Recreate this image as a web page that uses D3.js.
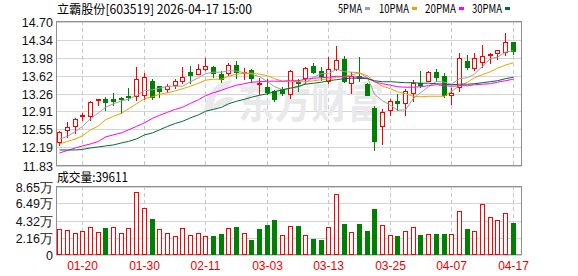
<!DOCTYPE html>
<html><head><meta charset="utf-8">
<script src="https://cdn.jsdelivr.net/npm/d3@7/dist/d3.min.js"></script>
<style>body{margin:0;background:#fff}svg{display:block}</style>
</head><body><svg id="c" width="578" height="276"></svg>
<script>
const dates=["01-15","01-16","01-19","01-20","01-21","01-22","01-23","01-26","01-27","01-28","01-29","01-30",
"02-02","02-03","02-04","02-05","02-06","02-09","02-10","02-11","02-12","02-13","02-24","02-25","02-26","02-27",
"03-02","03-03","03-04","03-05","03-06","03-09","03-10","03-11","03-12","03-13","03-16","03-17","03-18","03-19","03-20",
"03-23","03-24","03-25","03-26","03-27","03-30","03-31","04-01","04-02","04-03","04-07","04-08","04-09","04-10",
"04-13","04-14","04-15","04-16","04-17"];
const open =[12.30,12.53,12.61,12.81,12.82,13.13,13.15,13.16,13.18,13.22,13.22,13.23,13.52,13.41,13.36,13.44,13.52,13.70,13.65,13.75,
13.80,13.65,13.67,13.84,13.68,13.74,13.45,13.40,13.32,13.35,13.26,13.50,13.57,13.82,13.72,13.52,13.75,13.95,13.47,13.62,
13.46,12.97,12.61,12.93,13.12,13.07,13.27,13.48,13.52,13.70,13.62,13.23,13.40,13.91,13.77,13.89,14.03,14.07,14.10,14.29];
const high =[12.52,12.70,12.77,12.88,13.12,13.16,13.20,13.27,13.19,13.37,13.80,13.68,13.56,13.42,13.45,13.56,13.80,13.81,13.85,13.97,
13.82,13.71,13.87,13.92,13.77,13.76,13.58,13.55,13.34,13.40,13.73,13.56,13.80,13.88,13.80,13.99,14.21,14.01,13.70,14.00,
13.48,13.02,12.95,13.15,13.26,13.35,13.54,13.72,13.72,13.76,13.67,13.37,14.07,14.03,14.07,14.23,14.08,14.13,14.47,14.30];
const low  =[12.24,12.40,12.48,12.73,12.74,13.03,12.93,13.04,12.87,13.14,13.14,13.15,13.16,13.19,13.30,13.37,13.47,13.48,13.65,13.74,
13.60,13.49,13.63,13.57,13.55,13.50,13.25,13.26,13.12,13.23,13.17,13.31,13.47,13.67,13.54,13.47,13.74,13.50,13.27,13.52,
13.24,12.14,12.26,12.83,12.94,12.83,13.11,13.40,13.52,13.52,13.19,13.05,13.32,13.75,13.74,13.80,13.87,13.95,14.03,14.05];
const close=[12.50,12.60,12.76,12.83,13.10,13.15,13.10,13.12,13.16,13.19,13.55,13.59,13.19,13.32,13.42,13.52,13.59,13.64,13.75,13.82,
13.67,13.55,13.84,13.69,13.70,13.57,13.47,13.30,13.15,13.27,13.72,13.48,13.77,13.70,13.62,13.75,13.93,13.52,13.62,13.57,
13.24,12.31,12.89,13.12,13.07,13.32,13.47,13.43,13.70,13.60,13.24,13.28,13.97,13.79,13.97,14.01,14.05,14.13,14.29,14.12];
const volume=[3.25,3.12,2.75,3.00,3.50,2.87,3.37,3.50,2.75,3.37,7.95,5.87,4.50,3.25,2.75,2.37,3.37,2.50,2.75,2.37,
2.37,2.62,3.37,3.50,2.75,1.87,3.25,3.75,4.37,2.50,3.62,3.62,2.50,2.00,1.87,3.50,7.70,3.87,2.87,3.87,
3.00,5.74,3.75,2.50,2.37,3.00,3.50,2.50,2.62,2.62,2.62,2.62,5.49,3.25,3.00,6.37,4.74,4.37,5.24,3.96];
const volUp=[1,1,1,1,1,1,0,1,1,1,1,1,0,1,1,1,1,1,1,1,0,0,1,0,1,0,0,0,0,1,
1,0,1,0,0,1,1,0,1,0,0,0,1,1,0,1,1,0,1,0,0,1,1,0,1,1,1,1,1,0];
const ma5=[12.36,12.41,12.51,12.61,12.76,12.88,12.99,13.06,13.12,13.15,13.23,13.32,13.34,13.37,13.41,13.41,13.41,13.50,13.58,13.66,
13.69,13.69,13.72,13.71,13.68,13.65,13.60,13.50,13.40,13.34,13.38,13.38,13.48,13.59,13.66,13.66,13.75,13.70,13.69,13.68,
13.58,13.25,13.12,13.03,12.93,12.94,13.17,13.28,13.40,13.51,13.49,13.45,13.56,13.58,13.65,13.81,13.96,13.99,14.09,14.12];
const ma10=[12.26,12.31,12.36,12.42,12.54,12.62,12.74,12.81,12.87,12.96,13.06,13.16,13.20,13.25,13.28,13.32,13.36,13.41,13.47,13.53,
13.55,13.55,13.61,13.65,13.67,13.67,13.65,13.62,13.56,13.51,13.51,13.50,13.50,13.52,13.54,13.56,13.59,13.60,13.64,13.67,
13.62,13.50,13.41,13.36,13.30,13.26,13.21,13.20,13.21,13.21,13.21,13.31,13.42,13.49,13.58,13.64,13.70,13.77,13.83,13.88];
const ma20=[12.08,12.13,12.18,12.22,12.26,12.31,12.40,12.44,12.48,12.54,12.61,12.68,12.77,12.83,12.89,12.95,12.99,13.07,13.14,13.22,
13.28,13.33,13.38,13.43,13.46,13.49,13.50,13.51,13.51,13.51,13.52,13.52,13.55,13.57,13.58,13.59,13.61,13.60,13.60,13.59,
13.57,13.50,13.46,13.43,13.40,13.39,13.39,13.40,13.42,13.44,13.42,13.41,13.42,13.42,13.44,13.45,13.46,13.49,13.52,13.55];
const ma30=[12.14,12.14,12.14,12.15,12.18,12.20,12.22,12.24,12.28,12.31,12.36,12.44,12.48,12.54,12.61,12.67,12.71,12.78,12.84,12.91,
12.95,12.99,13.06,13.11,13.15,13.19,13.23,13.26,13.30,13.34,13.37,13.41,13.45,13.47,13.49,13.52,13.54,13.56,13.57,13.57,
13.56,13.52,13.50,13.50,13.49,13.48,13.48,13.47,13.47,13.46,13.45,13.44,13.45,13.45,13.46,13.48,13.50,13.52,13.56,13.59];
const priceTicks=[11.83,12.19,12.55,12.91,13.26,13.62,13.98,14.34,14.70];
const priceTickLabels=["11.83","12.19","12.55","12.91","13.26","13.62","13.98","14.34","14.70"];
const volTicks=[0,2.16,4.32,6.49,8.65];
const volTickLabels=["0","2.16万","4.32万","6.49万","8.65万"];
const dateTicks=["01-20","01-30","02-11","03-03","03-13","03-25","04-07","04-17"];
const maNames=["5PMA","10PMA","20PMA","30PMA"];
const maColors=["#a0a0a0","#f0a000","#ff00ff","#006f2f"];
const title="立霸股份[603519] 2026-04-17 15:00";
const volTitle="成交量:39611";
const watermark="东方财富";

const RED="#ff0000", GREEN="#008000";
const svg=d3.select("#c");
const P={l:56,r:522,t1:21,b1:166,t2:186,b2:255};
const x=d3.scaleBand().domain(dates).range([P.l,P.r-5]);
const y=d3.scaleLinear().domain([priceTicks[0],priceTicks[priceTicks.length-1]]).range([P.b1-0.5,P.t1+0.5]);
const yv=d3.scaleLinear().domain([0,volTicks[volTicks.length-1]]).range([P.b2-0.5,P.t2+0.5]);
const cx=d=>Math.floor(x(d)+x.bandwidth()/2);
const yy=v=>Math.round(y(v));
const FONT="'Liberation Sans', Arial, sans-serif";
const CJK="'Noto Sans CJK SC', sans-serif";

// panel grids
function panel(top,bottom,ticks,scale){
  const g=svg.append("g");
  g.selectAll("line.h").data(ticks).join("line")
   .attr("x1",P.l).attr("x2",P.r).attr("y1",d=>Math.round(scale(d))+0.5).attr("y2",d=>Math.round(scale(d))+0.5)
   .attr("stroke","#d4d4d4").attr("stroke-width",1);
  g.selectAll("line.v").data(dateTicks).join("line")
   .attr("x1",d=>cx(d)+0.5).attr("x2",d=>cx(d)+0.5).attr("y1",top).attr("y2",bottom)
   .attr("stroke","#c8c8c8").attr("stroke-dasharray","4,3");
  g.append("rect").attr("x",P.l+0.5).attr("y",top+0.5).attr("width",P.r-P.l-1).attr("height",bottom-top-1)
   .attr("fill","none").attr("stroke","#909090");
}
panel(P.t1,P.b1,priceTicks,y);
panel(P.t2,P.b2,volTicks,yv);

// watermark
svg.append("text").attr("x",238).attr("y",118).text(watermark)
  .attr("font-family",CJK).attr("font-weight","bold").attr("font-size",42)
  .attr("textLength",146).attr("lengthAdjust","spacingAndGlyphs").attr("fill","#e9e9ec");
svg.append("path").attr("d","M204,112 C206,92 216,82 232,80 L228,88 C218,90 212,98 214,112 Z M214,104 C222,96 228,96 234,98 L228,106 C222,104 218,106 214,110 Z")
  .attr("fill","#e9e9ec");

// y labels
svg.append("g").selectAll("text").data(priceTicks).join("text")
  .attr("x",53).attr("y",d=>yy(d)).attr("dy","0.36em").attr("text-anchor","end")
  .attr("font-family",FONT).attr("font-size",12.5).attr("fill","#111").text((d,i)=>priceTickLabels[i]);
svg.append("g").selectAll("text").data(volTicks).join("text")
  .attr("x",53).attr("y",d=>Math.round(yv(d))).attr("dy","0.36em").attr("text-anchor","end")
  .attr("font-family",FONT).attr("font-size",12.5).attr("fill","#111").text((d,i)=>volTickLabels[i]);

// date labels
svg.append("g").selectAll("text").data(dateTicks).join("text")
  .attr("x",d=>cx(d)+0.5).attr("y",270).attr("text-anchor","middle")
  .attr("font-family",FONT).attr("font-size",12).attr("fill","#ee0000").text(d=>d);

// candles
const cg=svg.append("g");
dates.forEach((d,i)=>{
  const c=cx(d), up=close[i]>=open[i], col=up?RED:GREEN;
  const yo=yy(open[i]), yc=yy(close[i]), yh=yy(high[i]), yl=yy(low[i]);
  cg.append("line").attr("x1",c+0.5).attr("x2",c+0.5).attr("y1",yh).attr("y2",yl+1).attr("stroke",col);
  const top=Math.min(yo,yc), bot=Math.max(yo,yc);
  if(bot-top<1){
    cg.append("line").attr("x1",c-2).attr("x2",c+3).attr("y1",top+0.5).attr("y2",top+0.5).attr("stroke",col);
  } else if(up){
    cg.append("rect").attr("x",c-2+0.5).attr("y",top+0.5).attr("width",4).attr("height",bot-top)
      .attr("fill","#fff").attr("stroke",col);
  } else {
    cg.append("rect").attr("x",c-2).attr("y",top).attr("width",5).attr("height",bot-top+1).attr("fill",col);
  }
});

// MA lines
[ma5,ma10,ma20,ma30].forEach((arr,k)=>{
  svg.append("path").datum(arr)
    .attr("d",d3.line().x((v,i)=>cx(dates[i])+0.5).y(v=>y(v)))
    .attr("fill","none").attr("stroke",maColors[k]).attr("stroke-width",1);
});

// volume bars
const vg=svg.append("g");
dates.forEach((d,i)=>{
  const c=cx(d), top=Math.round(yv(volume[i])), base=P.b2-1;
  if(volUp[i]){
    vg.append("rect").attr("x",c-2+0.5).attr("y",top+0.5).attr("width",4).attr("height",base-top)
      .attr("fill","#fff").attr("stroke",RED);
  } else {
    vg.append("rect").attr("x",c-2).attr("y",top).attr("width",5).attr("height",base-top+1).attr("fill",GREEN);
  }
});

// title
svg.append("text").attr("x",57).attr("y",14).text(title)
  .attr("font-family",CJK).attr("font-size",12.5).attr("fill","#000")
  .attr("textLength",195).attr("lengthAdjust","spacingAndGlyphs");
// volume title
svg.append("text").attr("x",57).attr("y",182).text(volTitle)
  .attr("font-family",CJK).attr("font-size",12.5).attr("fill","#000")
  .attr("textLength",71).attr("lengthAdjust","spacingAndGlyphs");

// legend
const legX=[338,379,425,472], legW=[24,30,31,30];
const lg=svg.append("g");
maNames.forEach((n,k)=>{
  lg.append("text").attr("x",legX[k]).attr("y",13).text(n)
    .attr("font-family",CJK).attr("font-size",12).attr("fill","#000")
    .attr("textLength",legW[k]).attr("lengthAdjust","spacingAndGlyphs");
  lg.append("rect").attr("x",legX[k]+legW[k]+3).attr("y",7).attr("width",5).attr("height",3).attr("fill",maColors[k]);
});
</script></body></html>
